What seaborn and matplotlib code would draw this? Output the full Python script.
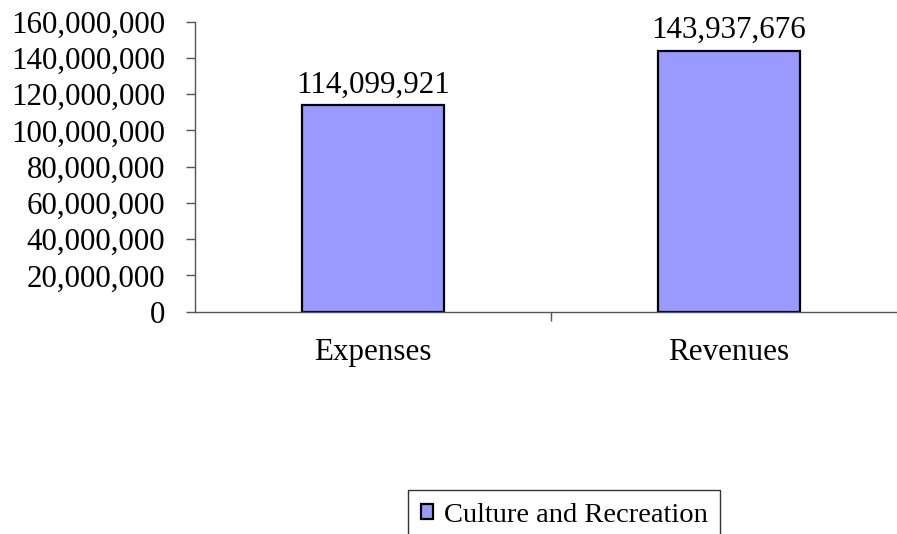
import matplotlib
matplotlib.use("Agg")
import matplotlib.pyplot as plt
from matplotlib.ticker import FuncFormatter, FixedLocator
import seaborn as sns
import pandas as pd

categories = ["Expenses", "Revenues"]
values = [114099921, 143937676]
series_name = "Culture and Recreation"
y_ticks = [0, 20000000, 40000000, 60000000, 80000000, 100000000,
           120000000, 140000000, 160000000]

bar_color = "#9999FF"
axis_color = "#555555"

sns.set_theme(style="white")
plt.rcParams["font.family"] = ["Liberation Serif", "DejaVu Serif"]
plt.rcParams["text.color"] = "black"

df = pd.DataFrame({"category": categories, "value": values})

fig = plt.figure(figsize=(8.97, 5.34), dpi=100)
ax = fig.add_axes([195 / 897, 1 - 311.7 / 534, 712 / 897, 290 / 534])

sns.barplot(data=df, x="category", y="value", color=bar_color,
            edgecolor="black", linewidth=1.6, width=0.4, saturation=1,
            ax=ax)

ax.set_xlim(-0.5, 1.5)
ax.set_ylim(0, 160000000)
ax.set_xlabel("")
ax.set_ylabel("")

# y axis: comma-grouped labels, outward ticks
ax.yaxis.set_major_locator(FixedLocator(y_ticks))
ax.yaxis.set_major_formatter(FuncFormatter(lambda v, p: f"{v:,.0f}"))
ax.tick_params(axis="y", which="major", direction="out", length=6.5,
               width=1, color=axis_color, pad=15, labelsize=22.3,
               labelcolor="black", left=True)

# x axis: category names without ticks, one tick between categories
ax.xaxis.set_major_locator(FixedLocator([0, 1]))
ax.set_xticklabels(categories)
ax.tick_params(axis="x", which="major", length=0, pad=19, labelsize=22.3,
               labelcolor="black")
ax.xaxis.set_minor_locator(FixedLocator([0.5]))
ax.tick_params(axis="x", which="minor", direction="out", length=6.5,
               width=1, color=axis_color, bottom=True)

for side in ["top", "right"]:
    ax.spines[side].set_visible(False)
for side in ["left", "bottom"]:
    ax.spines[side].set_color(axis_color)
    ax.spines[side].set_linewidth(1)
ax.grid(False)

# value labels above the bars
bars = ax.containers[0]
ax.bar_label(bars, labels=[f"{v:,.0f}" for v in values],
             padding=4, fontsize=22.3, color="black")

leg = fig.legend([bars], [series_name], loc="upper left",
                 bbox_to_anchor=(408 / 897, 1 - 490 / 534),
                 bbox_transform=fig.transFigure,
                 fontsize=20.5, frameon=True, fancybox=False,
                 edgecolor="black", borderpad=0.45, borderaxespad=0,
                 handlelength=0.42, handleheight=0.42, handletextpad=0.38,
                 labelcolor="black")
leg.get_frame().set_linewidth(1)

fig.savefig("out.png", dpi=100)
